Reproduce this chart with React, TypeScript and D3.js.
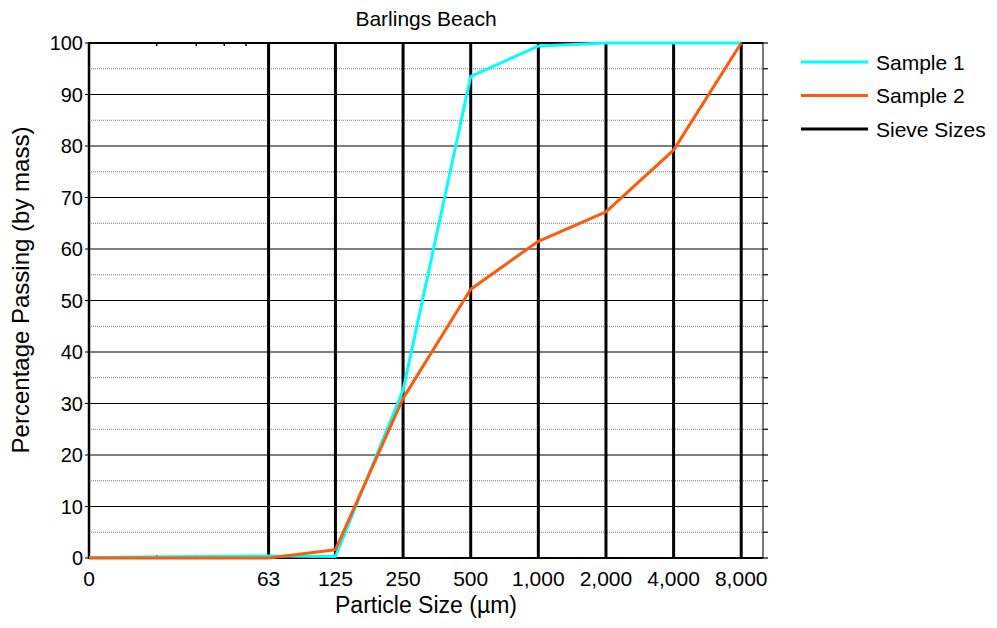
import React, { useEffect, useRef } from "react";
import * as d3 from "d3";

// sieve sizes in µm; the first one is drawn at the left edge and labelled "0"
const sieveSizes = [0, 63, 125, 250, 500, 1000, 2000, 4000, 8000];
const sample1 = [0.1, 0.4, 0.3, 32.6, 93.5, 99.4, 100, 100, 100];
const sample2 = [0, 0, 1.6, 31, 52.2, 61.5, 67.2, 79.2, 100];
const yTicks = [0, 10, 20, 30, 40, 50, 60, 70, 80, 90, 100];
const minorX = [20, 30, 40, 50];
const seriesNames = ["Sample 1", "Sample 2", "Sieve Sizes"];
const seriesColors = ["#00ffff", "#ff5a0a", "#000000"];

const App = () => {
  const ref = useRef<SVGSVGElement>(null);

  useEffect(() => {
    document.body.style.margin = "0";
    const svg = d3.select(ref.current);
    svg.selectAll("*").remove();

    const width = 997;
    const height = 628;
    const margin = { left: 89, top: 43, right: 234, bottom: 70 };
    const x0 = margin.left;
    const x1 = width - margin.right;
    const y0 = margin.top;
    const y1 = height - margin.bottom;
    const font = "Liberation Sans, Arial, sans-serif";

    const xScale = d3.scaleLog().domain([10, 10000]).range([x0, x1]);
    const xPos = (v: number) => xScale(v === 0 ? 10 : v);
    const yScale = d3.scaleLinear().domain([0, 100]).range([y1, y0]);

    const g = svg.append("g");

    // minor gridlines every 5
    const minorY = d3.range(5, 100, 10);
    g.selectAll(".minor")
      .data(minorY)
      .enter()
      .append("line")
      .attr("x1", x0)
      .attr("x2", x1)
      .attr("y1", (d) => yScale(d))
      .attr("y2", (d) => yScale(d))
      .attr("stroke", "#7a7a7a")
      .attr("stroke-width", 1)
      .attr("stroke-dasharray", "1,1");

    // major gridlines
    g.selectAll(".major")
      .data(yTicks)
      .enter()
      .append("line")
      .attr("x1", x0 - 4)
      .attr("x2", x1)
      .attr("y1", (d) => yScale(d))
      .attr("y2", (d) => yScale(d))
      .attr("stroke", "#000")
      .attr("stroke-width", 1.2);

    // right axis with small ticks
    g.append("line")
      .attr("x1", x1)
      .attr("x2", x1)
      .attr("y1", y0)
      .attr("y2", y1)
      .attr("stroke", "#333")
      .attr("stroke-width", 1.3);
    g.selectAll(".rtick")
      .data(d3.range(0, 101, 5))
      .enter()
      .append("line")
      .attr("x1", x1)
      .attr("x2", x1 + 5)
      .attr("y1", (d) => yScale(d))
      .attr("y2", (d) => yScale(d))
      .attr("stroke", "#000")
      .attr("stroke-width", 1.2);

    // top and bottom border
    [y0, y1].forEach((y) => {
      g.append("line")
        .attr("x1", x0)
        .attr("x2", x1)
        .attr("y1", y)
        .attr("y2", y)
        .attr("stroke", "#000")
        .attr("stroke-width", 2);
    });
    // minor x ticks top and bottom
    minorX.forEach((v) => {
      g.append("line")
        .attr("x1", xScale(v))
        .attr("x2", xScale(v))
        .attr("y1", y0)
        .attr("y2", y0 + 3)
        .attr("stroke", "#000")
        .attr("stroke-width", 1.5);
      g.append("line")
        .attr("x1", xScale(v))
        .attr("x2", xScale(v))
        .attr("y1", y1)
        .attr("y2", y1 - 3)
        .attr("stroke", "#000")
        .attr("stroke-width", 1.5);
    });

    // left axis
    g.append("line")
      .attr("x1", x0)
      .attr("x2", x0)
      .attr("y1", y0 - 1)
      .attr("y2", y1 + 1)
      .attr("stroke", "#000")
      .attr("stroke-width", 2.5);

    // sieve size lines
    g.selectAll(".sieve")
      .data(sieveSizes.slice(1))
      .enter()
      .append("line")
      .attr("x1", (d) => xPos(d))
      .attr("x2", (d) => xPos(d))
      .attr("y1", yScale(100))
      .attr("y2", yScale(0))
      .attr("stroke", "#000")
      .attr("stroke-width", 3);

    // sample lines
    const line = d3
      .line<number>()
      .x((d, i) => xPos(sieveSizes[i]))
      .y((d) => yScale(d));
    [sample1, sample2].forEach((s, i) => {
      g.append("path")
        .datum(s)
        .attr("d", line)
        .attr("fill", "none")
        .attr("stroke", seriesColors[i])
        .attr("stroke-width", 3)
        .attr("stroke-linejoin", "round");
    });

    // y tick labels
    g.selectAll(".ylab")
      .data(yTicks)
      .enter()
      .append("text")
      .attr("x", x0 - 6)
      .attr("y", (d) => yScale(d))
      .attr("dy", "0.36em")
      .attr("text-anchor", "end")
      .style("font-family", font)
      .style("font-size", "20px")
      .text((d) => d);

    // x tick labels
    g.selectAll(".xlab")
      .data(sieveSizes)
      .enter()
      .append("text")
      .attr("x", (d) => xPos(d))
      .attr("y", 586)
      .attr("text-anchor", "middle")
      .style("font-family", font)
      .style("font-size", "21px")
      .text((d) => d3.format(",")(d));

    // titles
    const cx = (x0 + x1) / 2;
    svg.append("text")
      .attr("x", cx)
      .attr("y", 26)
      .attr("text-anchor", "middle")
      .style("font-family", font)
      .style("font-size", "21px")
      .text("Barlings Beach");
    svg.append("text")
      .attr("x", cx)
      .attr("y", 613)
      .attr("text-anchor", "middle")
      .style("font-family", font)
      .style("font-size", "23px")
      .text("Particle Size (\u00b5m)");
    svg.append("text")
      .attr("transform", `translate(29,290) rotate(-90)`)
      .attr("text-anchor", "middle")
      .style("font-family", font)
      .style("font-size", "24px")
      .text("Percentage Passing (by mass)");

    // legend
    const legend = svg.append("g").attr("transform", "translate(801,62)");
    seriesNames.forEach((name, i) => {
      const y = i * 33.5;
      legend.append("line")
        .attr("x1", 0)
        .attr("x2", 67)
        .attr("y1", y)
        .attr("y2", y)
        .attr("stroke", seriesColors[i])
        .attr("stroke-width", 3);
      legend.append("text")
        .attr("x", 75)
        .attr("y", y)
        .attr("dy", "0.36em")
        .style("font-family", font)
        .style("font-size", "21px")
        .text(name);
    });
  }, []);

  return <svg ref={ref} width={997} height={628} style={{ display: "block", background: "#fff" }} />;
};

export default App;
